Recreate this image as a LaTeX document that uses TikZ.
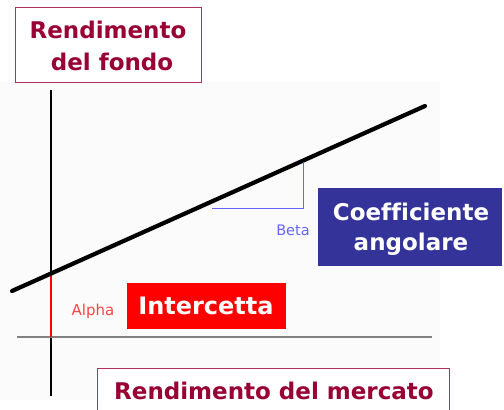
\documentclass[tikz,border=0pt]{standalone}
\usepackage{fontspec}
\setmainfont[Ligatures=NoCommon]{DejaVu Sans}
\definecolor{maroontext}{HTML}{990033}
\definecolor{maroonline}{HTML}{B03060}
\definecolor{boxblue}{HTML}{333399}
\definecolor{betablue}{HTML}{6666FF}
\definecolor{alphared}{HTML}{FF4444}
\definecolor{bgrey}{HTML}{FBFBFB}
\definecolor{axisgrey}{HTML}{808080}
\tikzset{
  framebox/.style={draw=maroonline, line width=1.3pt, fill=white, inner sep=0pt, anchor=north west},
  filledbox/.style={inner sep=0pt, anchor=north west},
  bigtext/.style={font=\fontsize{23}{23}\selectfont\bfseries, inner sep=0pt, anchor=base},
  smalltext/.style={font=\fontsize{14.5}{14.5}\selectfont, inner sep=0pt, anchor=base},
}
\begin{document}
\begin{tikzpicture}[x=1pt,y=-1pt]
\useasboundingbox (0,0) rectangle (504,410);
\fill[bgrey] (0,82) rectangle (440,400);
% axes
\coordinate (vtop) at (51,90);
\coordinate (vbot) at (51,396);
\coordinate (hleft) at (17,337);
\coordinate (hright) at (432,337);
\coordinate (origin) at (51,337);
\draw[black, line width=1.6pt] (vtop) -- (vbot);
\draw[axisgrey, line width=2pt] (hleft) -- (hright);
% regression line
\coordinate (rl) at (12,291);
\coordinate (rr) at (425,106);
\coordinate (icpt) at (51,273.5);
\draw[red, line width=1.6pt] (icpt) -- (origin);
\draw[black, line width=4.2pt, line cap=round] (rl) -- (rr);
% beta triangle
\coordinate (bl) at (212,208);
\coordinate (bc) at (303,208);
\coordinate (bt) at (303,162);
\draw[betablue, line width=1pt] (bl) -- (bc) -- (bt);
% labels
\node[smalltext, text=betablue] (beta) at (293,235) {Beta};
\node[smalltext, text=alphared, font=\fontsize{15}{15}\selectfont] (alpha) at (93,315) {Alpha};
% top box
\node[framebox, minimum width=186pt, minimum height=75pt] (ybox) at (15,7) {};
\node[bigtext, text=maroontext] (yt1) at (108,38) {Rendimento};
\node[bigtext, text=maroontext] (yt2) at (112,70) {del fondo};
% bottom box
\node[framebox, minimum width=352pt, minimum height=50pt] (xbox) at (97,368) {};
\node[bigtext, text=maroontext] (xt) at (274,399) {Rendimento del mercato};
% blue box
\node[filledbox, fill=boxblue, minimum width=184pt, minimum height=78pt] (cbox) at (318,188) {};
\node[bigtext, text=white] (ct1) at (411,220) {Coefficiente};
\node[bigtext, text=white] (ct2) at (411,250) {angolare};
% red box
\node[filledbox, fill=red, minimum width=159pt, minimum height=46pt] (ibox) at (127,283) {};
\node[bigtext, text=white, font=\fontsize{24}{24}\selectfont\bfseries] (it) at (206,314) {Intercetta};
\end{tikzpicture}
\end{document}
